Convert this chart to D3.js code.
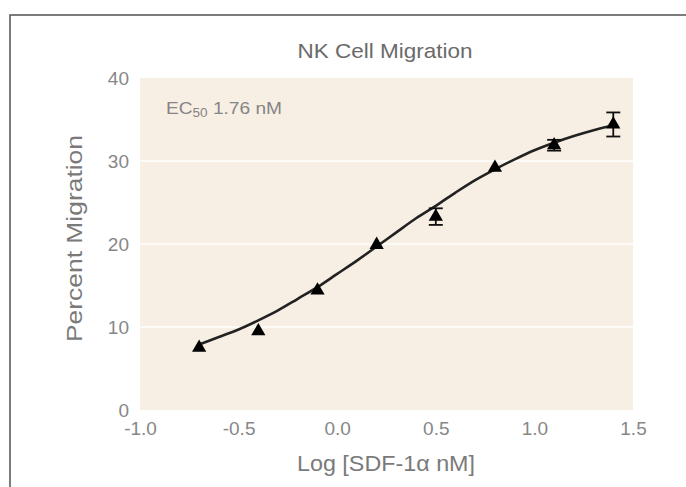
<!DOCTYPE html>
<html><head><meta charset="utf-8">
<script src="https://cdn.jsdelivr.net/npm/d3@7"></script>
<style>body{margin:0;background:#fff}svg{display:block}</style>
</head><body>
<svg id="c" width="686" height="487"></svg>
<script>
const title = "NK Cell Migration";
const xLabel = "Log [SDF-1\u03b1 nM]";
const yLabel = "Percent Migration";
const xTicks = [-1.0, -0.5, 0.0, 0.5, 1.0, 1.5];
const yTicks = [0, 10, 20, 30, 40];
const logDose = [-0.7, -0.4, -0.1, 0.2, 0.5, 0.8, 1.1, 1.4];
const migration = [7.5, 9.5, 14.4, 19.9, 23.3, 29.2, 31.9, 34.4];
const errorSEM = [0, 0, 0, 0, 1.0, 0, 0.65, 1.45];
const fitX = [-0.7,-0.6,-0.5,-0.4,-0.3,-0.2,-0.1,0.0,0.1,0.2,0.3,0.4,0.5,0.6,0.7,0.8,0.9,1.0,1.1,1.2,1.3,1.4];
const fitY = [7.9,8.8,9.7,10.8,12.0,13.4,14.8,16.4,18.0,19.7,21.4,23.1,24.6,26.2,27.7,29.0,30.2,31.3,32.2,33.0,33.7,34.3];
const ecText = "1.76 nM";

const svg = d3.select("#c");
// frame
svg.append("rect").attr("x",10).attr("y",15).attr("width",700).attr("height",500)
  .attr("fill","#fff").attr("stroke","#5c5c5c").attr("stroke-width",1.6);

const x = d3.scaleLinear().domain([-1,1.5]).range([140,633]);
const y = d3.scaleLinear().domain([0,40]).range([410,78]);
const font = "Liberation Sans, Arial, sans-serif";

svg.append("rect").attr("x",x(-1)).attr("y",y(40)).attr("width",x(1.5)-x(-1)).attr("height",y(0)-y(40))
  .attr("fill","#f7efe4");
svg.selectAll(".grid").data(yTicks.filter(d=>d>0&&d<40)).enter().append("line")
  .attr("x1",x(-1)).attr("x2",x(1.5)).attr("y1",d=>y(d)).attr("y2",d=>y(d))
  .attr("stroke","#ffffff").attr("stroke-width",1.5);

// axes
const f1 = d3.format(".1f");
const xa = svg.append("g").attr("transform",`translate(0,${y(0)})`)
  .call(d3.axisBottom(x).tickValues(xTicks).tickFormat(d=>f1(d).replace("\u2212","-")).tickSize(0).tickPadding(12));
const ya = svg.append("g").attr("transform",`translate(${x(-1)},0)`)
  .call(d3.axisLeft(y).tickValues(yTicks).tickFormat(d3.format("d")).tickSize(0).tickPadding(11));
[xa,ya].forEach(a=>{a.select(".domain").remove();
  a.selectAll("text").attr("fill","#878787").attr("font-family",font).attr("font-size",19);});

// titles
svg.append("text").attr("x",385).attr("y",58).attr("text-anchor","middle").attr("font-family",font)
  .attr("font-size",21).attr("fill","#6a6a6a").attr("textLength",175).attr("lengthAdjust","spacingAndGlyphs").text(title);
svg.append("text").attr("x",386).attr("y",471).attr("text-anchor","middle").attr("font-family",font)
  .attr("font-size",22).attr("fill","#7a7a7a").attr("textLength",178).attr("lengthAdjust","spacingAndGlyphs").text(xLabel);
svg.append("text").attr("transform","translate(82,238.5) rotate(-90)").attr("text-anchor","middle")
  .attr("font-family",font).attr("font-size",22.5).attr("fill","#7a7a7a")
  .attr("textLength",207).attr("lengthAdjust","spacingAndGlyphs").text(yLabel);
const ec = svg.append("text").attr("x",166).attr("y",114).attr("font-family",font)
  .attr("font-size",17).attr("fill","#858585").attr("textLength",116).attr("lengthAdjust","spacingAndGlyphs");
ec.append("tspan").text("EC");
ec.append("tspan").attr("font-size",12).attr("dy",3).text("50");
ec.append("tspan").attr("dy",-3).text(" " + ecText);

// fitted curve
const pts = fitX.map((v,i)=>[v,fitY[i]]);
svg.append("path").datum(pts).attr("fill","none").attr("stroke","#222").attr("stroke-width",2.6)
  .attr("d",d3.line().x(d=>x(d[0])).y(d=>y(d[1])).curve(d3.curveMonotoneX));

// error bars
const data = logDose.map((v,i)=>({x:v,y:migration[i],e:errorSEM[i]}));
const eb = svg.selectAll(".eb").data(data.filter(d=>d.e>0)).enter().append("g");
eb.append("line").attr("x1",d=>x(d.x)).attr("x2",d=>x(d.x)).attr("y1",d=>y(d.y-d.e)).attr("y2",d=>y(d.y+d.e))
  .attr("stroke","#111").attr("stroke-width",1.8);
eb.append("line").attr("x1",d=>x(d.x)-7).attr("x2",d=>x(d.x)+7).attr("y1",d=>y(d.y+d.e)).attr("y2",d=>y(d.y+d.e))
  .attr("stroke","#111").attr("stroke-width",1.8);
eb.append("line").attr("x1",d=>x(d.x)-7).attr("x2",d=>x(d.x)+7).attr("y1",d=>y(d.y-d.e)).attr("y2",d=>y(d.y-d.e))
  .attr("stroke","#111").attr("stroke-width",1.8);

// markers
svg.selectAll(".pt").data(data).enter().append("path")
  .attr("transform",d=>`translate(${x(d.x)},${y(d.y)})`)
  .attr("d",d3.symbol().type(d3.symbolTriangle).size(88))
  .attr("fill","#000");
</script>
</body></html>
